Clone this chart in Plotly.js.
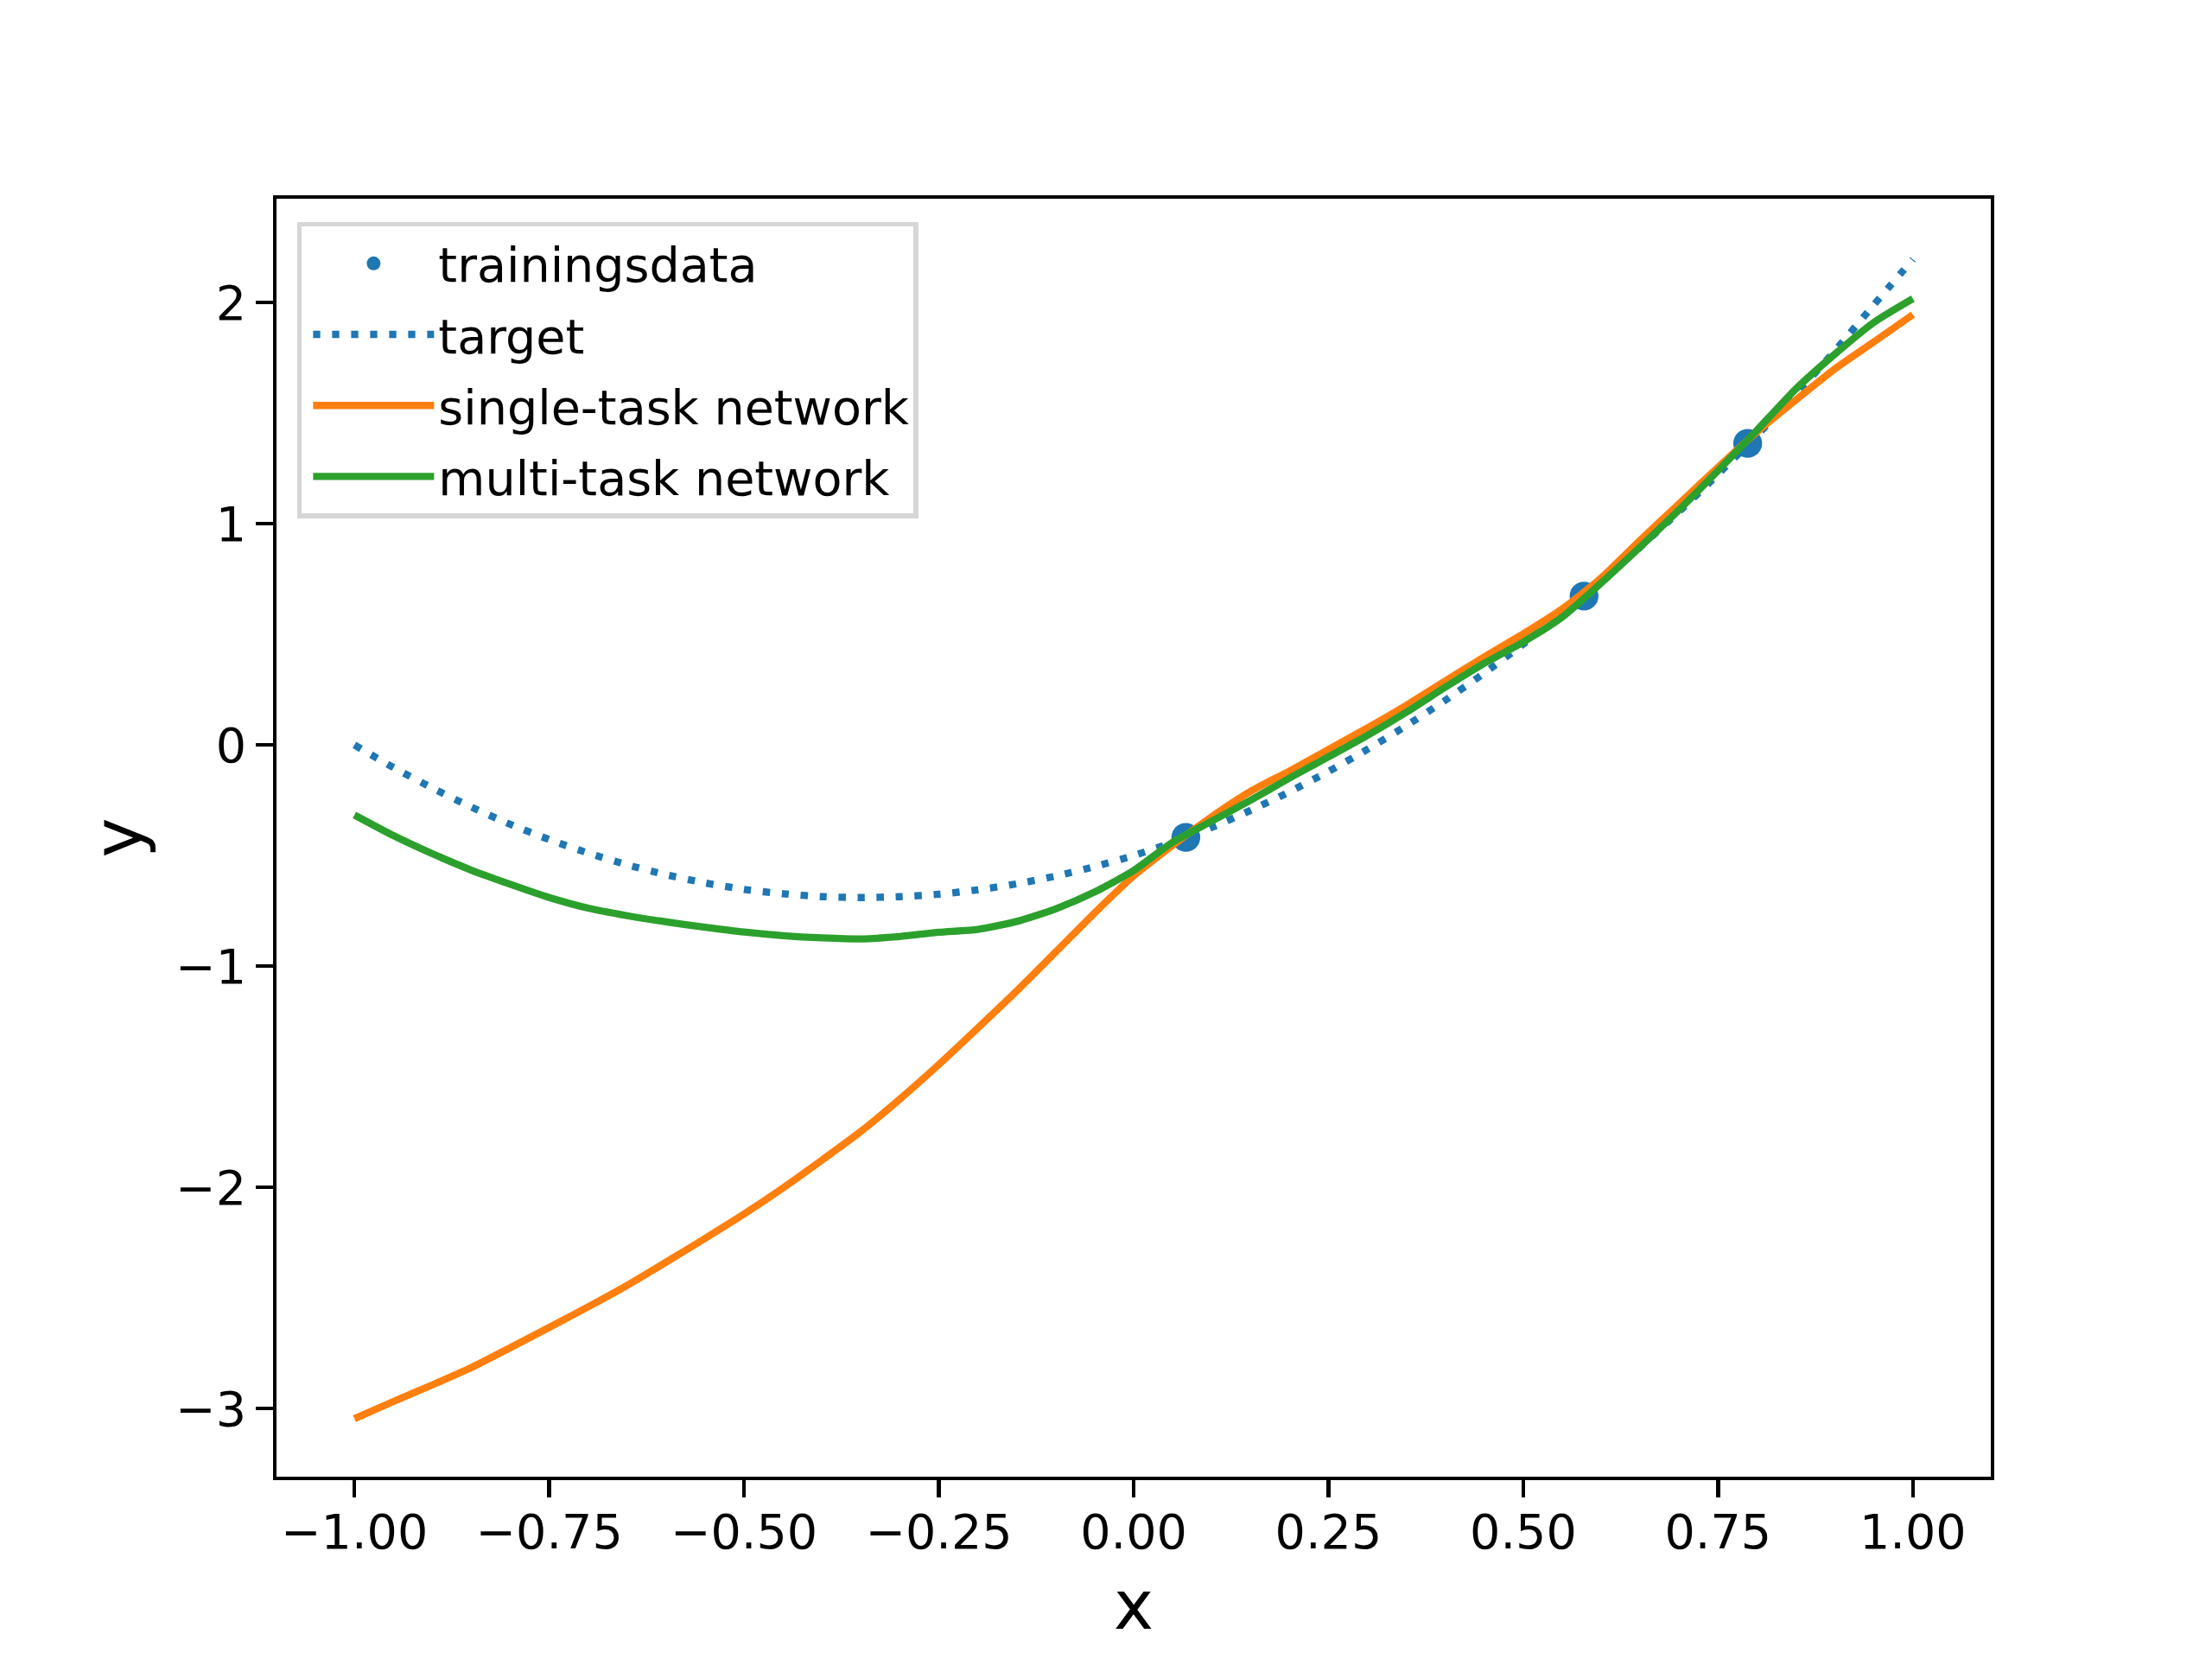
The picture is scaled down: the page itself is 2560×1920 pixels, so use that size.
<!DOCTYPE html>
<html>
<head>
<meta charset="utf-8">
<script src="https://cdn.plot.ly/plotly-3.0.1.min.js"></script>
<style>
html, body { margin: 0; padding: 0; background: #ffffff; }
#chart { width: 2560px; height: 1920px; }
</style>
</head>
<body>
<div id="chart"></div>
<script>
// ---- data ----
const trainX = [0.067, 0.578, 0.788];
const trainY = [-0.418, 0.673, 1.363];

const gridX = [-1.00,-0.95,-0.90,-0.85,-0.80,-0.75,-0.70,-0.65,-0.60,-0.55,-0.50,
               -0.45,-0.40,-0.35,-0.30,-0.25,-0.20,-0.15,-0.10,-0.05,0.00,
               0.05,0.10,0.15,0.20,0.25,0.30,0.35,0.40,0.45,0.50,
               0.55,0.60,0.65,0.70,0.75,0.80,0.85,0.90,0.95,1.00];

const targetY = [0.000,-0.102,-0.195,-0.281,-0.359,-0.428,-0.489,-0.542,-0.587,-0.624,-0.653,
                 -0.673,-0.686,-0.690,-0.686,-0.675,-0.655,-0.628,-0.593,-0.550,-0.500,
                 -0.441,-0.373,-0.296,-0.212,-0.120,-0.020,0.087,0.202,0.325,0.456,
                 0.594,0.740,0.894,1.055,1.224,1.400,1.586,1.782,1.990,2.195];

const singleY = [-3.046,-2.968,-2.893,-2.815,-2.725,-2.633,-2.540,-2.443,-2.338,-2.231,-2.121,
                 -2.003,-1.877,-1.747,-1.601,-1.445,-1.280,-1.112,-0.936,-0.759,-0.592,
                 -0.454,-0.325,-0.210,-0.118,-0.021,0.077,0.179,0.289,0.398,0.502,
                 0.615,0.755,0.925,1.090,1.255,1.415,1.560,1.700,1.822,1.945];

const multiY = [-0.317,-0.410,-0.492,-0.566,-0.630,-0.690,-0.738,-0.772,-0.800,-0.824,-0.846,
                -0.862,-0.872,-0.877,-0.866,-0.847,-0.834,-0.798,-0.741,-0.665,-0.568,
                -0.440,-0.345,-0.250,-0.150,-0.054,0.043,0.148,0.261,0.369,0.465,
                0.578,0.732,0.895,1.063,1.240,1.423,1.610,1.767,1.910,2.017];

const seriesNames = ["trainingsdata", "target", "single-task network", "multi-task network"];

const xTickVals = [-1.00,-0.75,-0.50,-0.25,0.00,0.25,0.50,0.75,1.00];
const xTickText = ["\u22121.00","\u22120.75","\u22120.50","\u22120.25","0.00","0.25","0.50","0.75","1.00"];
const yTickVals = [-3,-2,-1,0,1,2];
const yTickText = ["\u22123","\u22122","\u22121","0","1","2"];

// ---- styling (matplotlib defaults at 400 dpi) ----
const PT = 400 / 72;
const FONT = "DejaVu Sans, Liberation Sans, sans-serif";
const LW = 1.5 * PT;
const SMOOTH = 0.6;

const traces = [
  {
    x: trainX, y: trainY, name: seriesNames[0], legendgroup: "g1",
    type: "scatter", mode: "markers",
    marker: { color: "#1f77b4", size: 6 * PT, line: { width: 0 } }
  },
  {
    x: gridX, y: targetY, name: seriesNames[1], legendgroup: "g2",
    type: "scatter", mode: "lines",
    line: { color: "#1f77b4", width: LW, shape: "spline", smoothing: SMOOTH,
            dash: (1 * LW).toFixed(1) + "px," + (1.65 * LW).toFixed(1) + "px" }
  },
  {
    x: gridX, y: singleY, name: seriesNames[2], legendgroup: "g3",
    type: "scatter", mode: "lines",
    line: { color: "#ff7f0e", width: LW, shape: "spline", smoothing: SMOOTH }
  },
  {
    x: gridX, y: multiY, name: seriesNames[3], legendgroup: "g4",
    type: "scatter", mode: "lines",
    line: { color: "#2ca02c", width: LW, shape: "spline", smoothing: SMOOTH }
  }
];

const axisCommon = {
  showgrid: false, zeroline: false,
  showline: true, linecolor: "#000000", linewidth: 0.8 * PT, mirror: true,
  ticks: "outside", ticklen: 3.5 * PT, tickwidth: 0.8 * PT, tickcolor: "#000000",
  tickfont: { family: FONT, size: 10 * PT, color: "#000000" },
  tickmode: "array"
};

const layout = {
  width: 2560, height: 1920,
  paper_bgcolor: "#ffffff", plot_bgcolor: "#ffffff",
  margin: { l: 320, r: 256, t: 230.4, b: 211.2, pad: 0 },
  font: { family: FONT, color: "#000000" },
  showlegend: true,
  legend: {
    x: 0.012, y: 0.982, xanchor: "left", yanchor: "top",
    bgcolor: "rgba(255,255,255,0.8)", bordercolor: "#d6d6d6", borderwidth: 1.0 * PT,
    font: { family: FONT, size: 10 * PT, color: "#000000" },
    itemwidth: 140,
    indentation: 8,
    traceorder: "grouped",
    tracegroupgap: 7
  },
  xaxis: Object.assign({}, axisCommon, {
    range: [-1.1, 1.1],
    tickvals: xTickVals, ticktext: xTickText,
    ticklabelstandoff: -8,
    title: { text: "x", font: { family: FONT, size: 14 * PT, color: "#000000" }, standoff: 28 }
  }),
  yaxis: Object.assign({}, axisCommon, {
    range: [-3.308, 2.469],
    tickvals: yTickVals, ticktext: yTickText,
    title: { text: "y", font: { family: FONT, size: 14 * PT, color: "#000000" }, standoff: 14 }
  })
};

Plotly.newPlot("chart", traces, layout, { displayModeBar: false, staticPlot: true });
</script>
</body>
</html>
